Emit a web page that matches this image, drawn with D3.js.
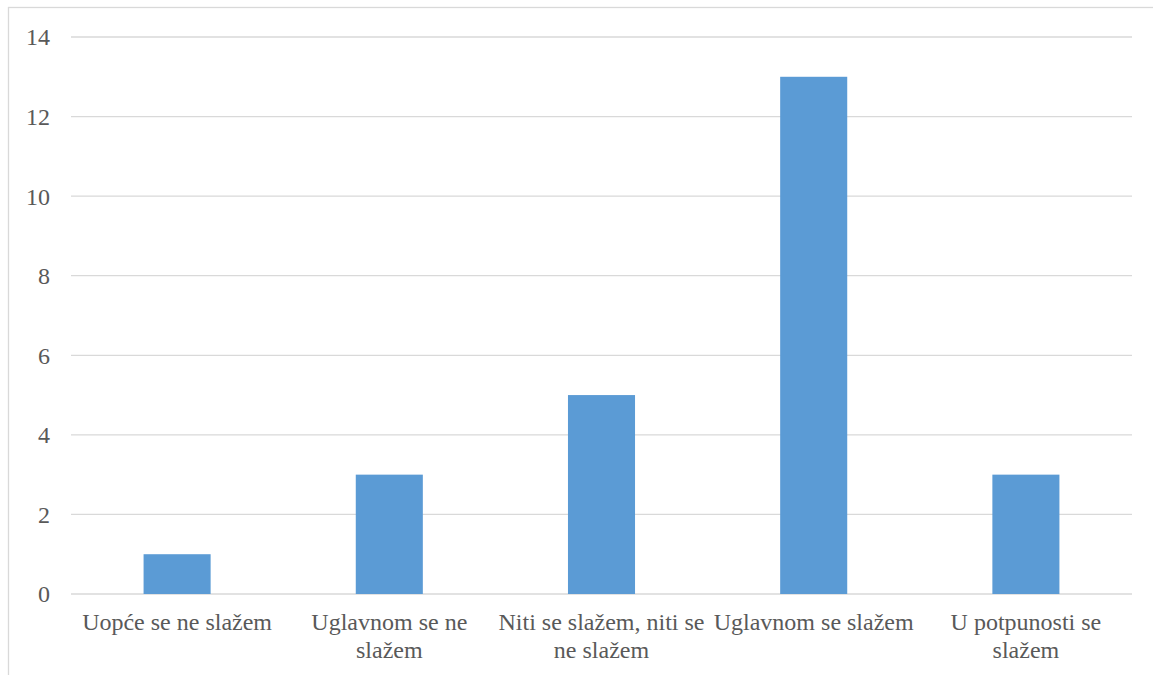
<!DOCTYPE html>
<html>
<head>
<meta charset="utf-8">
<script src="https://cdn.jsdelivr.net/npm/d3@7"></script>
<style>
  body { margin: 0; background: #fff; }
</style>
</head>
<body>
<div id="chart"></div>
<script>
var categories = ["Uopće se ne slažem", "Uglavnom se ne slažem", "Niti se slažem, niti se ne slažem", "Uglavnom se slažem", "U potpunosti se slažem"];
var values = [1, 3, 5, 13, 3];
var yTicks = [0, 2, 4, 6, 8, 10, 12, 14];

var width = 1153, height = 675;
var margin = {left: 71, right: 21, top: 37, bottom: 81};
var font = "'Times New Roman', 'Liberation Serif', 'DejaVu Serif', serif";

var svg = d3.select("#chart").append("svg")
  .attr("width", width)
  .attr("height", height)
  .attr("font-family", font);

// chart frame
svg.append("rect")
  .attr("x", 8.5).attr("y", 7.5)
  .attr("width", width + 10).attr("height", height + 10)
  .attr("fill", "none")
  .attr("stroke", "#d9d9d9")
  .attr("stroke-width", 1.3);

var x = d3.scaleBand()
  .domain(categories)
  .range([margin.left, width - margin.right])
  .paddingInner(0.684)
  .paddingOuter(0.342);

var y = d3.scaleLinear()
  .domain([0, 14])
  .range([height - margin.bottom, margin.top]);

// gridlines
svg.append("g")
  .selectAll("line")
  .data(yTicks)
  .join("line")
  .attr("x1", margin.left)
  .attr("x2", width - margin.right)
  .attr("y1", function (d) { return y(d); })
  .attr("y2", function (d) { return y(d); })
  .attr("stroke", "#d9d9d9")
  .attr("stroke-width", 1.3);

// y labels
svg.append("g")
  .selectAll("text")
  .data(yTicks)
  .join("text")
  .attr("x", 50)
  .attr("y", function (d) { return y(d); })
  .attr("dy", "0.35em")
  .attr("text-anchor", "end")
  .attr("fill", "#595959")
  .attr("font-family", font)
  .attr("font-size", 24)
  .text(function (d) { return d; });

// bars
svg.append("g")
  .selectAll("rect")
  .data(values)
  .join("rect")
  .attr("x", function (d, i) { return x(categories[i]); })
  .attr("width", x.bandwidth())
  .attr("y", function (d) { return y(d); })
  .attr("height", function (d) { return y(0) - y(d); })
  .attr("fill", "#5b9bd5");

// category labels, wrapped to the band step
var labels = svg.append("g")
  .selectAll("text")
  .data(categories)
  .join("text")
  .attr("x", function (d) { return x(d) + x.bandwidth() / 2; })
  .attr("y", 630)
  .attr("text-anchor", "middle")
  .attr("fill", "#595959")
  .attr("font-family", font)
  .attr("font-size", 24);

labels.each(function (d) {
  var el = d3.select(this);
  var words = d.split(" ");
  var maxW = x.step() - 2;
  var line = [];
  var tspan = el.append("tspan").attr("x", el.attr("x")).attr("dy", 0);
  words.forEach(function (w) {
    line.push(w);
    tspan.text(line.join(" "));
    if (tspan.node().getComputedTextLength() > maxW && line.length > 1) {
      line.pop();
      tspan.text(line.join(" "));
      line = [w];
      tspan = el.append("tspan").attr("x", el.attr("x")).attr("dy", "1.15em").text(w);
    }
  });
});
</script>
</body>
</html>
